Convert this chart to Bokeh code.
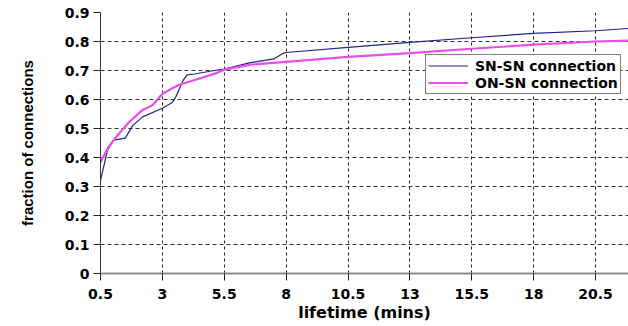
from bokeh.plotting import figure
from bokeh.models import Range1d, Legend, LegendItem, FixedTicker
from bokeh.embed import file_html
from bokeh.resources import INLINE

# lifetime (mins) vs fraction of connections
x_sn = [0.5, 0.78, 1.03, 1.5, 1.8, 2.2, 3.0, 3.4, 3.55, 3.7, 3.85, 4.0, 4.3, 5.1, 5.5, 6.56, 7.5, 7.85, 8.0, 10.5, 13.0, 15.5, 18.0, 20.5, 21.83]
y_sn = [0.32, 0.425, 0.46, 0.467, 0.51, 0.54, 0.57, 0.59, 0.61, 0.64, 0.668, 0.685, 0.688, 0.70, 0.705, 0.727, 0.74, 0.758, 0.762, 0.78, 0.797, 0.813, 0.828, 0.837, 0.845]

x_on = [0.5, 0.82, 1.1, 1.63, 2.2, 2.6, 3.0, 3.65, 4.34, 5.15, 5.5, 6.56, 8.0, 10.5, 13.0, 15.5, 18.0, 20.5, 21.83]
y_on = [0.384, 0.436, 0.467, 0.52, 0.564, 0.58, 0.62, 0.65, 0.668, 0.69, 0.703, 0.72, 0.73, 0.747, 0.76, 0.775, 0.789, 0.80, 0.803]

x_ticks = [0.5, 3, 5.5, 8, 10.5, 13, 15.5, 18, 20.5]
x_tick_labels = ["0.5", "3", "5.5", "8", "10.5", "13", "15.5", "18", "20.5"]
y_ticks = [0, 0.1, 0.2, 0.3, 0.4, 0.5, 0.6, 0.7, 0.8, 0.9]
y_tick_labels = ["0", "0.1", "0.2", "0.3", "0.4", "0.5", "0.6", "0.7", "0.8", "0.9"]

series_names = ["SN-SN connection", "ON-SN connection"]

p = figure(width=628, height=326, output_backend="svg", toolbar_location=None,
           x_range=Range1d(0.5, 21.83), y_range=Range1d(0, 0.9),
           min_border_left=100, min_border_right=0, min_border_top=12, min_border_bottom=53)
p.outline_line_color = None
p.background_fill_color = "white"

fnt = "DejaVu Sans"

p.xaxis.ticker = FixedTicker(ticks=x_ticks)
p.xaxis.major_label_overrides = {t: l for t, l in zip(x_ticks, x_tick_labels)}
p.yaxis.ticker = FixedTicker(ticks=y_ticks)
p.yaxis.major_label_overrides = {t: l for t, l in zip(y_ticks, y_tick_labels)}

for ax in (p.xaxis, p.yaxis):
    ax.major_label_text_font = fnt
    ax.major_label_text_font_style = "bold"
    ax.major_label_text_font_size = "14px"
    ax.major_label_text_color = "black"
    ax.axis_label_text_color = "black"
    ax.minor_tick_line_color = None
    ax.major_tick_in = 0
    ax.major_tick_out = 7
    ax.major_tick_line_color = "#222222"

p.xaxis.axis_line_color = "#8c8c8c"
p.xaxis.axis_line_width = 2
p.xaxis.major_label_standoff = 8
p.yaxis.axis_line_color = "#333333"
p.yaxis.axis_line_width = 1
p.yaxis.major_label_standoff = 4

p.xaxis.axis_label = "lifetime (mins)"
p.xaxis.axis_label_text_font = fnt
p.xaxis.axis_label_text_font_style = "bold"
p.xaxis.axis_label_text_font_size = "16px"
p.xaxis.axis_label_standoff = 1

p.yaxis.axis_label = "fraction of connections"
p.yaxis.axis_label_text_font = "Liberation Sans"
p.yaxis.axis_label_text_font_style = "bold"
p.yaxis.axis_label_text_font_size = "15px"
p.yaxis.axis_label_standoff = 26

p.xgrid.grid_line_color = "#222222"
p.xgrid.grid_line_dash = "3 3"
p.xgrid.grid_line_width = 1
p.ygrid.grid_line_color = "#333333"
p.ygrid.grid_line_dash = "4 3"
p.ygrid.grid_line_width = 1

r1 = p.line(x_sn, y_sn, line_color="#22228f", line_width=1.2)
r2 = p.line(x_on, y_on, line_color="#e84ee8", line_width=2.2)

legend = Legend(items=[LegendItem(label=series_names[0], renderers=[r1]),
                       LegendItem(label=series_names[1], renderers=[r2])],
                location=(325, 179))
legend.border_line_color = "black"
legend.border_line_width = 1
legend.background_fill_color = "white"
legend.background_fill_alpha = 1
legend.label_text_font = fnt
legend.label_text_font_style = "bold"
legend.label_text_font_size = "14px"
legend.label_text_color = "black"
legend.glyph_width = 40
legend.glyph_height = 17
legend.label_height = 17
legend.spacing = 0
legend.padding = 2
legend.margin = 0
legend.label_standoff = 7
p.add_layout(legend, "center")

open("out.html", "w").write(file_html(p, INLINE))
